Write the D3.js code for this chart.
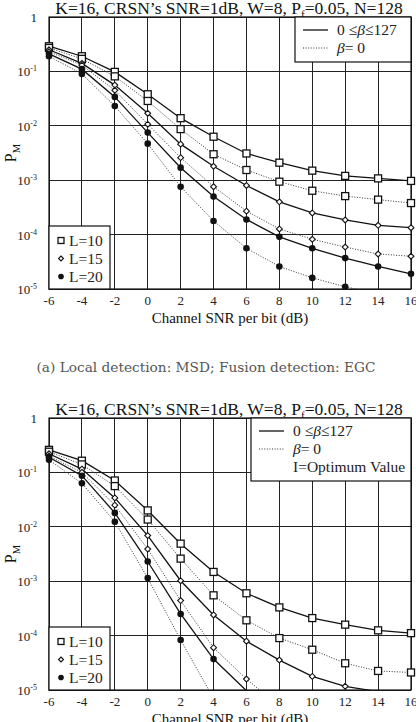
<!DOCTYPE html>
<meta charset="utf-8">
<html>
<head>
<title>PM vs channel SNR</title>
<style>
body { margin: 0; background: #fff; }
text, tspan { font-family: "Liberation Serif", "Times New Roman", serif; }
.caption { font-family: "DejaVu Serif", serif; }
.grid line { stroke: #222; stroke-width: 1; shape-rendering: crispEdges; }
.frame { fill: none; stroke: #111; stroke-width: 1.2; }
.solid { fill: none; stroke: #111; stroke-width: 1.3; }
.dotted { fill: none; stroke: #333; stroke-width: 1; stroke-dasharray: 1,1.6; }
.leg { fill: #fff; stroke: #111; stroke-width: 1.2; }
</style>
</head>
<body>
<svg id="chart" width="416" height="722"></svg>

<script src="https://cdn.jsdelivr.net/npm/d3@7/dist/d3.min.js"></script>
<script>

// channel SNR per bit (dB)
const snr = [-6, -4, -2, 0, 2, 4, 6, 8, 10, 12, 14, 16]
const xTicks = [-6, -4, -2, 0, 2, 4, 6, 8, 10, 12, 14, 16]
const yTicks = [1, 1e-1, 1e-2, 1e-3, 1e-4, 1e-5]
const yTickExp = ["", "-1", "-2", "-3", "-4", "-5"]

// panel (a): MSD / EGC
const a_L10_all  = [0.29, 0.19, 0.098, 0.038, 0.0138, 0.0063, 0.0031, 0.0021, 0.0015, 0.0012, 0.00108, 0.00097]
const a_L10_zero = [0.27, 0.17, 0.081, 0.0286, 0.0087, 0.0030, 0.00154, 0.00094, 0.00064, 0.00051, 0.00044, 0.00038]
const a_L15_all  = [0.25, 0.14, 0.056, 0.017, 0.0046, 0.0018, 0.00080, 0.00040, 0.00025, 0.000186, 0.000148, 0.000134]
const a_L15_zero = [0.23, 0.13, 0.045, 0.0107, 0.0026, 0.00076, 0.00027, 0.000127, 0.000082, 0.000059, 0.000044, 0.000040]
const a_L20_all  = [0.21, 0.11, 0.034, 0.0075, 0.0017, 0.00050, 0.00019, 0.000091, 0.000056, 0.000037, 0.000026, 0.000019]
const a_L20_zero = [0.19, 0.09, 0.023, 0.0047, 0.00076, 0.000178, 0.000056, 0.000026, 0.000016, 0.000011, 0.0000082, 0.0000062]

// panel (b)
const b_L10_all  = [0.26, 0.164, 0.071, 0.020, 0.0049, 0.00148, 0.00060, 0.00033, 0.00021, 0.000159, 0.000125, 0.000111]
const b_L10_zero = [0.24, 0.14, 0.056, 0.0136, 0.0026, 0.00055, 0.000191, 0.000090, 0.000055, 0.000031, 0.0000224, 0.000021]
const b_L15_all  = [0.22, 0.115, 0.034, 0.0069, 0.00102, 0.00024, 0.000079, 0.0000355, 0.0000178, 0.0000117, 0.0000093, 0.000008]
const b_L15_zero = [0.20, 0.10, 0.025, 0.0039, 0.00044, 0.000060, 0.0000159, 0.000005, 0.0000025, 0.0000015, 0.000001, 0.0000008]
const b_L20_all  = [0.19, 0.087, 0.018, 0.0023, 0.00025, 0.000037, 0.0000097, 0.000004, 0.000002, 0.0000012, 0.0000009, 0.0000007]
const b_L20_zero = [0.17, 0.063, 0.0124, 0.00114, 0.000083, 0.000007, 0.000001, 0.0000003, 0.0000002, 0.0000001, 0.0000001, 0.0000001]

const markerNames = ["L=10", "L=15", "L=20"]
const styleNames = ["0 \u2264\u03b2\u2264127", "\u03b2= 0"]

const svg = d3.select("#chart")

function marker(sel, kind, s) {
  s = s || 1
  if (kind == 0) {
    sel.append("rect").attr("x", -3.5*s).attr("y", -3.5*s).attr("width", 7*s).attr("height", 7*s)
      .attr("fill", "#fff").attr("stroke", "#111").attr("stroke-width", 1.3)
  } else if (kind == 1) {
    sel.append("path").attr("d", d3.symbol(d3.symbolDiamond2, 22*s*s)())
      .attr("fill", "#fff").attr("stroke", "#111").attr("stroke-width", 1.1)
  } else {
    sel.append("circle").attr("r", 3.3*s).attr("fill", "#111")
  }
}

function supLabel(sel, exp) {
  if (exp == "") { sel.text("1"); return }
  sel.append("tspan").text("10")
  sel.append("tspan").attr("dy", -5).attr("font-size", 8).text(exp)
}

function drawPanel(id, top, series, extraLegend) {
  const left = 49, right = 411, bottom = top + 272
  const x = d3.scaleLinear().domain([-6, 16]).range([left, right])
  const y = d3.scaleLog().domain([1e-5, 1]).range([bottom, top])
  const g = svg.append("g")

  // title
  const t = g.append("text").attr("x", 229).attr("y", top - 3)
    .attr("text-anchor", "middle").attr("font-size", 17.5).attr("fill", "#111")
  t.append("tspan").text("K=16, CRSN\u2019s SNR=1dB, W=8, P")
  t.append("tspan").attr("dy", 4).attr("font-size", 11).text("f")
  t.append("tspan").attr("dy", -4).text("=0.05, N=128")

  // grid
  const grid = g.append("g").attr("class", "grid")
  grid.selectAll("line.v").data(xTicks).join("line").attr("class", "v")
    .attr("x1", d => x(d)).attr("x2", d => x(d)).attr("y1", top).attr("y2", bottom)
  grid.selectAll("line.h").data(yTicks).join("line").attr("class", "h")
    .attr("x1", left).attr("x2", right).attr("y1", d => y(d)).attr("y2", d => y(d))
    .attr("stroke", "#444")
  g.append("rect").attr("class", "frame").attr("x", left).attr("y", top)
    .attr("width", right - left).attr("height", bottom - top)

  // ticks labels
  g.selectAll("text.xt").data(xTicks).join("text").attr("class", "xt")
    .attr("x", d => x(d)).attr("y", bottom + 16).attr("text-anchor", "middle")
    .attr("font-size", 13).attr("fill", "#222").text(d => d)
  g.selectAll("text.yt").data(yTicks).join("text").attr("class", "yt")
    .attr("x", 37).attr("y", d => y(d) + 5).attr("text-anchor", "end")
    .attr("font-size", 13).attr("fill", "#222")
    .each(function(d, i) { supLabel(d3.select(this), yTickExp[i]) })

  // axis titles
  g.append("text").attr("x", 230).attr("y", bottom + 34).attr("text-anchor", "middle")
    .attr("font-size", 15).attr("fill", "#111").text("Channel SNR per bit (dB)")
  const yl = g.append("text").attr("transform", "translate(16," + ((top + bottom) / 2) + ") rotate(-90)")
    .attr("text-anchor", "middle").attr("font-size", 16).attr("fill", "#111")
  yl.append("tspan").text("P")
  yl.append("tspan").attr("dy", 4).attr("font-size", 10.5).text("M")

  // curves
  g.append("clipPath").attr("id", "clip" + id).append("rect")
    .attr("x", left - 5).attr("y", top).attr("width", right - left + 10).attr("height", bottom - top)
  const plot = g.append("g").attr("clip-path", "url(#clip" + id + ")")
  const line = d3.line().x((d, i) => x(snr[i])).y(d => y(d))
  series.forEach(s => {
    plot.append("path").attr("class", s.dotted ? "dotted" : "solid").attr("d", line(s.values))
  })
  series.forEach(s => {
    plot.selectAll(null).data(s.values.map((v, i) => [snr[i], v]).filter(d => d[1] >= 1e-5))
      .join("g").attr("transform", d => "translate(" + x(d[0]) + "," + y(d[1]) + ")")
      .each(function() { marker(d3.select(this), s.marker) })
  })

  // line style legend (top right)
  const lw = extraLegend ? 160 : 116
  const lh = extraLegend ? 63 : 45
  const lg = g.append("g").attr("transform", "translate(" + (right - lw) + "," + top + ")")
  lg.append("rect").attr("class", "leg").attr("width", lw).attr("height", lh)
  const rows = styleNames.concat(extraLegend ? [extraLegend] : [])
  rows.forEach((name, i) => {
    const ry = 13 + i * 18
    if (i < 2) {
      lg.append("line").attr("class", i == 0 ? "solid" : "dotted")
        .attr("x1", 8).attr("x2", 33).attr("y1", ry).attr("y2", ry)
    }
    const tx = lg.append("text").attr("x", 42).attr("y", ry + 5).attr("font-size", 15.5).attr("fill", "#222")
    if (i == 0) {
      tx.append("tspan").text("0 \u2264")
      tx.append("tspan").attr("font-style", "italic").text("\u03b2")
      tx.append("tspan").text("\u2264127")
    } else if (i == 1) {
      tx.append("tspan").attr("font-style", "italic").text("\u03b2")
      tx.append("tspan").text("= 0")
    } else {
      tx.text(name)
    }
  })

  // marker legend (bottom left)
  const mg = g.append("g").attr("transform", "translate(" + left + "," + (bottom - 63) + ")")
  mg.append("rect").attr("class", "leg").attr("width", 61).attr("height", 63)
  markerNames.forEach((name, i) => {
    const ry = 14.5 + i * 18
    const m = mg.append("g").attr("transform", "translate(12," + ry + ")")
    marker(m, i, 0.85)
    mg.append("text").attr("x", 20).attr("y", ry + 5.5).attr("font-size", 15.5).attr("fill", "#222").text(name)
  })
}

drawPanel("a", 17, [
  { values: a_L10_all, marker: 0 }, { values: a_L10_zero, marker: 0, dotted: true },
  { values: a_L15_all, marker: 1 }, { values: a_L15_zero, marker: 1, dotted: true },
  { values: a_L20_all, marker: 2 }, { values: a_L20_zero, marker: 2, dotted: true }
], null)

svg.append("text").attr("class", "caption").attr("x", 206).attr("y", 372).attr("text-anchor", "middle")
  .attr("font-size", 13.7).attr("fill", "#555")
  .text("(a)  Local detection: MSD; Fusion detection: EGC")

drawPanel("b", 418, [
  { values: b_L10_all, marker: 0 }, { values: b_L10_zero, marker: 0, dotted: true },
  { values: b_L15_all, marker: 1 }, { values: b_L15_zero, marker: 1, dotted: true },
  { values: b_L20_all, marker: 2 }, { values: b_L20_zero, marker: 2, dotted: true }
], "I=Optimum Value")

</script>
</body>
</html>
